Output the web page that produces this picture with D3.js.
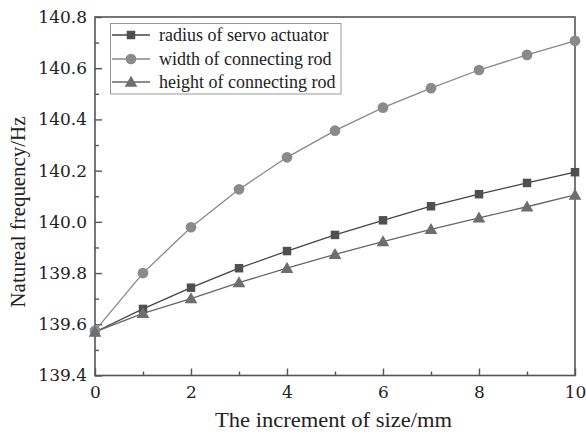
<!DOCTYPE html>
<html><head><meta charset="utf-8">
<script src="https://cdn.jsdelivr.net/npm/d3@7"></script>
<style>body{margin:0;background:#fff}svg{display:block}
svg text{font-family:"Liberation Serif","Times New Roman",serif;}
svg text.num{font-family:"DejaVu Serif",serif;}</style>
</head><body>
<svg id="c" width="586" height="434"></svg>
<script>
const xValues = [0,1,2,3,4,5,6,7,8,9,10];
const radiusServo = [139.57,139.66,139.743,139.819,139.886,139.949,140.006,140.061,140.108,140.152,140.194];
const widthRod = [139.575,139.80,139.979,140.127,140.252,140.356,140.446,140.522,140.593,140.652,140.707];
const heightRod = [139.57,139.643,139.70,139.763,139.819,139.873,139.923,139.971,140.016,140.059,140.105];
const seriesNames = ["radius of servo actuator","width of connecting rod","height of connecting rod"];
const xTicks = [0,2,4,6,8,10];
const xMinorTicks = [1,3,5,7,9];
const yTicks = [139.4,139.6,139.8,140.0,140.2,140.4,140.6,140.8];
const yMinorTicks = [139.5,139.7,139.9,140.1,140.3,140.5,140.7];

const svg = d3.select("#c");
const L=95,R=575,T=17,B=375.5;
const x = d3.scaleLinear().domain([0,10]).range([L,R]);
const y = d3.scaleLinear().domain([139.4,140.8]).range([B,T]);
const axisCol = "#555";

svg.append("rect").attr("x",L).attr("y",T).attr("width",R-L).attr("height",B-T)
  .attr("fill","none").attr("stroke",axisCol).attr("stroke-width",1.6);

const xAx = svg.append("g").attr("transform",`translate(0,${B})`)
  .call(d3.axisBottom(x).tickValues(xTicks).tickSize(-7).tickPadding(10).tickFormat(d3.format("d")));
const xMin = svg.append("g").attr("transform",`translate(0,${B})`)
  .call(d3.axisBottom(x).tickValues(xMinorTicks).tickSize(-4).tickFormat(""));
const yAx = svg.append("g").attr("transform",`translate(${L},0)`)
  .call(d3.axisLeft(y).tickValues(yTicks).tickSize(-7).tickPadding(8).tickFormat(d3.format(".1f")));
const yMin = svg.append("g").attr("transform",`translate(${L},0)`)
  .call(d3.axisLeft(y).tickValues(yMinorTicks).tickSize(-4).tickFormat(""));
[xAx,xMin,yAx,yMin].forEach(g=>{
  g.select(".domain").remove();
  g.selectAll(".tick line").attr("stroke",axisCol).attr("stroke-width",1.4);
  g.selectAll("text").attr("class","num").attr("font-size",17).attr("fill","#222");
});

svg.append("text").attr("x",333.5).attr("y",427).attr("text-anchor","middle")
  .attr("font-size",21).attr("fill","#222")
  .attr("textLength",237).attr("lengthAdjust","spacingAndGlyphs").text("The increment of size/mm");
svg.append("text").attr("transform","translate(25,212) rotate(-90)").attr("text-anchor","middle")
  .attr("font-size",21).attr("fill","#222")
  .attr("textLength",191).attr("lengthAdjust","spacingAndGlyphs").text("Natureal frequency/Hz");

const series = [
  {name:seriesNames[0], vals:radiusServo, line:"#444", fill:"#4f4f4f", shape:"square"},
  {name:seriesNames[1], vals:widthRod, line:"#888", fill:"#8a8a8a", shape:"circle"},
  {name:seriesNames[2], vals:heightRod, line:"#666", fill:"#6e6e6e", shape:"triangle"}
];
const symType = {square:d3.symbolSquare, circle:d3.symbolCircle, triangle:d3.symbolTriangle};
const symSize = {square:72, circle:90, triangle:70};
const line = d3.line().x((d,i)=>x(xValues[i])).y(d=>y(d));

series.forEach(s=>{
  svg.append("path").datum(s.vals).attr("d",line).attr("fill","none")
    .attr("stroke",s.line).attr("stroke-width",1.3);
});
series.forEach(s=>{
  svg.append("g").selectAll("path").data(s.vals).join("path")
    .attr("transform",(d,i)=>`translate(${x(xValues[i])},${y(d) + (s.shape==="triangle"?1:0)})`)
    .attr("d",d3.symbol().type(symType[s.shape]).size(symSize[s.shape]))
    .attr("fill",s.fill);
});

const lg = svg.append("g");
lg.append("rect").attr("x",110.5).attr("y",23.5).attr("width",230.5).attr("height",70.5)
  .attr("fill","#fff").attr("stroke","#999").attr("stroke-width",1);
const ly = [35,59,82];
const lw = [172,172,182];
series.forEach((s,i)=>{
  lg.append("line").attr("x1",112).attr("x2",150).attr("y1",ly[i]).attr("y2",ly[i])
    .attr("stroke",s.line).attr("stroke-width",1.3);
  lg.append("path").attr("transform",`translate(131,${ly[i]+(s.shape==="triangle"?1:0)})`)
    .attr("d",d3.symbol().type(symType[s.shape]).size(symSize[s.shape])).attr("fill",s.fill);
  lg.append("text").attr("x",159).attr("y",ly[i]+6).attr("font-size",18)
    .attr("fill","#222").text(s.name);
});
</script>
</body></html>
